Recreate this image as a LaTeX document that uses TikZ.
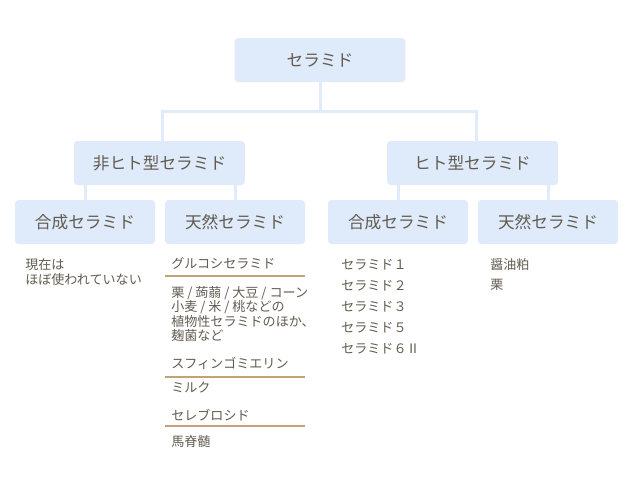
\documentclass[tikz,border=0pt]{standalone}
\usepackage{fontspec}
\setmainfont{Noto Sans CJK JP}
\definecolor{boxfill}{HTML}{DFEBFB}
\definecolor{linkc}{HTML}{E0ECFB}
\definecolor{txt}{HTML}{625B4F}
\definecolor{rulec}{HTML}{C4A277}
\begin{document}
\begin{tikzpicture}[x=0.75pt, y=-0.75pt, text=txt,
  box/.style={rectangle, fill=boxfill, draw=none, rounded corners=2.5pt,
    minimum height=33pt, font=\fontsize{12.5pt}{15pt}\selectfont},
  wide/.style={box, minimum width=128pt},
  narrow/.style={box, minimum width=105pt},
  link/.style={draw=linkc, line width=2.25pt},
  item/.style={anchor=west, inner sep=0pt, align=left, font=\fontsize{9.8pt}{10.9pt}\selectfont},
  rule/.style={draw=rulec, line width=1.5pt}]
\useasboundingbox (0,0) rectangle (640,480);
% boxes
\node (root) at (320,60) [wide] {セラミド};
\node (nonhuman) at (159.5,163) [wide] {非ヒト型セラミド};
\node (human) at (472.5,163) [wide] {ヒト型セラミド};
\node (synL) at (85,222) [narrow] {合成セラミド};
\node (natL) at (235,222) [narrow] {天然セラミド};
\node (synR) at (398,222) [narrow] {合成セラミド};
\node (natR) at (548,222) [narrow] {天然セラミド};
% links
\coordinate (split) at (320,111);
\draw [link] (root.south) -- (split);
\draw [link] ([xshift=2.5pt]nonhuman.north) |- (split) -| ([xshift=3pt]human.north);
\foreach \up/\down in {nonhuman/synL, nonhuman/natL, human/synR, human/natR}
  \draw [link] (\down.north) -- (\down.north |- \up.south);
% lists
\node (unused) at (25,272.5) [item, font=\fontsize{9.8pt}{11.25pt}\selectfont] {現在は\\ほぼ使われていない};
\node (gluco) at (171,263) [item] {グルコシセラミド};
\node (plants) at (171,314) [item] {栗 / 蒟蒻 / 大豆 / コーン\\小麦 / 米 / 桃などの\\植物性セラミドのほか、\\麹菌など};
\node (sphingo) at (171,363) [item] {スフィンゴミエリン};
\node (milk) at (171,388) [item] {ミルク};
\node (cerebro) at (171,415) [item] {セレブロシド};
\node (marrow) at (171,442) [item] {馬脊髄};
\draw [rule] (165,276) -- (305,276);
\draw [rule] (165,377) -- (305,377);
\draw [rule] (165,426) -- (305,426);
\node (types) at (341,306.5) [item, font=\fontsize{9.8pt}{15.75pt}\selectfont] {セラミド１\\セラミド２\\セラミド３\\セラミド５\\セラミド６Ⅱ};
\node (soy) at (490,275) [item, font=\fontsize{9.8pt}{15pt}\selectfont] {醤油粕\\栗};
\end{tikzpicture}
\end{document}
